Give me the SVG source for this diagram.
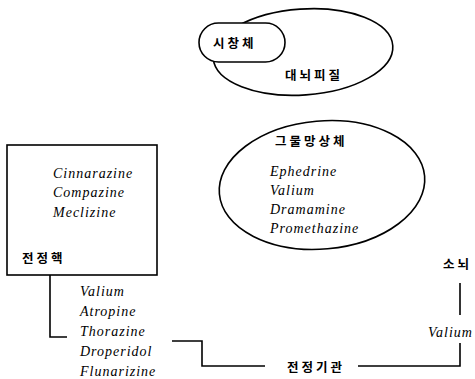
<svg xmlns="http://www.w3.org/2000/svg" width="475" height="379" viewBox="0 0 475 379">
<style>
.ln{fill:none;stroke:#000;stroke-width:1.6}
.sh{fill:#fff;stroke:#000;stroke-width:1.6}
.ko{font-family:"Noto Sans CJK KR","Noto Sans",sans-serif;font-size:12.5px;font-weight:bold;letter-spacing:3px;fill:#000}
.dr{font-family:"Liberation Serif","DejaVu Serif",serif;font-style:italic;font-size:14px;letter-spacing:1px;fill:#000}
</style>
<rect width="475" height="379" fill="#fff"/>
<g id="cortex">
<ellipse class="sh" cx="303" cy="52" rx="90" ry="43" transform="rotate(-4 303 52)"/>
<text class="ko" x="285" y="80">대뇌피질</text>
</g>
<g id="thalamus">
<rect class="sh" x="199" y="23" width="86" height="39" rx="19.5"/>
<text class="ko" x="213" y="48">시창체</text>
</g>
<g id="reticular">
<ellipse class="sh" cx="322" cy="185" rx="103" ry="64" transform="rotate(-5 322 185)"/>
<text class="ko" x="275" y="146">그물망상체</text>
<text class="dr" x="270" y="176">Ephedrine</text>
<text class="dr" x="270" y="195">Valium</text>
<text class="dr" x="270" y="214">Dramamine</text>
<text class="dr" x="270" y="233">Promethazine</text>
</g>
<g id="vestibular-nucleus">
<rect class="sh" x="7" y="145" width="150" height="130"/>
<text class="dr" x="53" y="178">Cinnarazine</text>
<text class="dr" x="53" y="197">Compazine</text>
<text class="dr" x="53" y="217">Meclizine</text>
<text class="ko" x="22" y="263">전정핵</text>
</g>
<g id="drugs-list">
<text class="dr" x="80" y="296">Valium</text>
<text class="dr" x="80" y="316">Atropine</text>
<text class="dr" x="80" y="336">Thorazine</text>
<text class="dr" x="80" y="356">Droperidol</text>
<text class="dr" x="80" y="376">Flunarizine</text>
</g>
<g id="vestibular-organ">
<text class="ko" x="287" y="372">전정기관</text>
</g>
<g id="cerebellum">
<text class="ko" x="443" y="269">소뇌</text>
<text class="dr" x="428" y="337">Valium</text>
</g>
<g id="connectors">
<path class="ln" d="M50,275 V337 H67"/>
<path class="ln" d="M172,341 H202 V366 H265"/>
<path class="ln" d="M358,366 H460 V343"/>
<path class="ln" d="M460,315 V283"/>
</g>
</svg>
